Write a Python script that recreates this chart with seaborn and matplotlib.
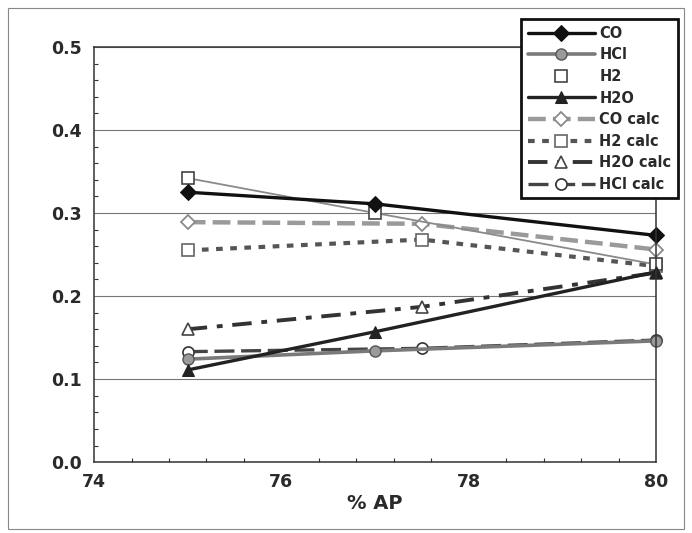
import matplotlib
matplotlib.use("Agg")
import matplotlib.pyplot as plt
import seaborn as sns
import pandas as pd
from matplotlib.patches import Rectangle
from matplotlib.ticker import MultipleLocator

# measured data
x_meas = [75, 77, 80]
co = [0.325, 0.311, 0.273]
hcl = [0.124, 0.134, 0.146]
h2 = [0.342, 0.300, 0.238]
h2o = [0.111, 0.157, 0.229]

# calculated data
x_calc = [75, 77.5, 80]
co_calc = [0.289, 0.287, 0.256]
h2_calc = [0.255, 0.268, 0.236]
h2o_calc = [0.160, 0.187, 0.228]
hcl_calc = [0.133, 0.137, 0.147]

sns.set_theme(style="white")
plt.rcParams['font.family'] = ['DejaVu Sans']

fig = plt.figure(figsize=(6.92, 5.33), dpi=100)
ax = fig.add_axes([0.136, 0.133, 0.812, 0.779])

fig.patches.append(Rectangle((0.012, 0.008), 0.976, 0.977, transform=fig.transFigure,
                             fill=False, edgecolor='#888888', lw=0.8))

def df(x, y):
    return pd.DataFrame({'x': x, 'y': y})

common = dict(ax=ax, clip_on=False)

# CO calc (gray long dash)
sns.lineplot(data=df(x_calc, co_calc), x='x', y='y', color='#9a9a9a', lw=3.2,
             linestyle=(0, (4, 1.6)), marker='D', markersize=7, markerfacecolor='white',
             markeredgecolor='#8a8a8a', markeredgewidth=1.3, label='CO calc', **common)
# H2 calc (short dash)
sns.lineplot(data=df(x_calc, h2_calc), x='x', y='y', color='#555555', lw=3.0,
             linestyle=(0, (1.6, 1.8)), marker='s', markersize=8, markerfacecolor='white',
             markeredgecolor='#666666', markeredgewidth=1.2, label='H2 calc', **common)
# H2O calc (dash-dot)
sns.lineplot(data=df(x_calc, h2o_calc), x='x', y='y', color='#333333', lw=2.8,
             linestyle=(0, (5, 2.5, 1.5, 2.5)), marker='^', markersize=9, markerfacecolor='white',
             markeredgecolor='#444444', markeredgewidth=1.2, label='H2O calc', **common)
# HCl calc (long dash)
sns.lineplot(data=df(x_calc, hcl_calc), x='x', y='y', color='#444444', lw=2.4,
             linestyle=(0, (6, 2)), marker='o', markersize=8, markerfacecolor='white',
             markeredgecolor='#333333', markeredgewidth=1.2, label='HCl calc', **common)

# H2 measured: thin line + open squares
sns.lineplot(data=df(x_meas, h2), x='x', y='y', color='#8a8a8a', lw=1.3,
             label='_nolegend_', **common)
sns.lineplot(data=df(x_meas, h2), x='x', y='y', color='#555555', linestyle='none',
             marker='s', markersize=9, markerfacecolor='white', markeredgecolor='#444444',
             markeredgewidth=1.2, label='H2', **common)
# HCl measured
sns.lineplot(data=df(x_meas, hcl), x='x', y='y', color='#7a7a7a', lw=2.6,
             marker='o', markersize=8, markerfacecolor='#9a9a9a', markeredgecolor='#555555',
             markeredgewidth=1.0, label='HCl', **common)
# H2O measured
sns.lineplot(data=df(x_meas, h2o), x='x', y='y', color='#222222', lw=2.4,
             marker='^', markersize=9, markerfacecolor='#222222', markeredgecolor='#222222',
             label='H2O', **common)
# CO measured
sns.lineplot(data=df(x_meas, co), x='x', y='y', color='#111111', lw=2.4,
             marker='D', markersize=8, markerfacecolor='#111111', markeredgecolor='#111111',
             label='CO', **common)

ax.set_xlim(74, 80)
ax.set_ylim(0, 0.5)
ax.xaxis.set_major_locator(MultipleLocator(2))
ax.xaxis.set_minor_locator(MultipleLocator(0.4))
ax.yaxis.set_major_locator(MultipleLocator(0.1))
ax.yaxis.set_minor_locator(MultipleLocator(0.02))
ax.yaxis.set_major_formatter(matplotlib.ticker.FormatStrFormatter('%.1f'))
ax.grid(axis='y', which='major', color='#777777', lw=0.8)
ax.grid(axis='x', visible=False)
ax.tick_params(axis='both', which='major', direction='out', length=5, width=1,
               color='#333333', labelsize=12.5, pad=4)
ax.tick_params(axis='both', which='minor', direction='in', length=3, width=0.8,
               color='#333333', bottom=True, left=True)
ax.tick_params(axis='x', which='major', direction='inout', length=8)
for lbl in ax.get_xticklabels() + ax.get_yticklabels():
    lbl.set_fontweight('bold')
    lbl.set_color('#2a2a2a')
for s in ax.spines.values():
    s.set_color('#333333')
    s.set_linewidth(1.1)
ax.set_xlabel('% AP', fontsize=14, fontweight='bold', color='#2a2a2a', labelpad=2)
ax.set_ylabel('')

handles, labels = ax.get_legend_handles_labels()
order = ['CO', 'HCl', 'H2', 'H2O', 'CO calc', 'H2 calc', 'H2O calc', 'HCl calc']
hmap = dict(zip(labels, handles))
leg = ax.legend([hmap[k] for k in order], order, loc='upper right',
                bbox_to_anchor=(1.052, 1.084), frameon=True, fancybox=False,
                edgecolor='#111111', framealpha=1, handlelength=4.6, handletextpad=0.3,
                labelspacing=0.45, borderpad=0.45, prop={'weight': 'bold', 'size': 10.5})
leg.get_frame().set_linewidth(2)
leg.set_zorder(10)
for t in leg.get_texts():
    t.set_color('#2a2a2a')

fig.savefig('out.png', dpi=100)
